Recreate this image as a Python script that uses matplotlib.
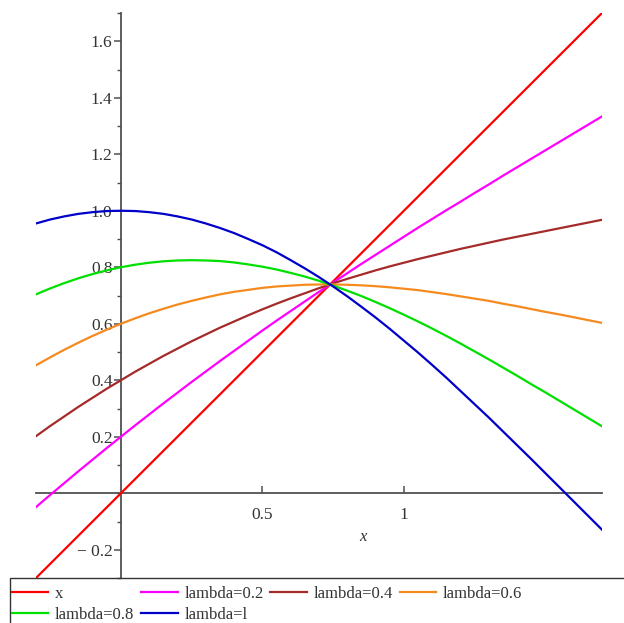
import matplotlib
matplotlib.use("Agg")
import matplotlib.pyplot as plt
from matplotlib.ticker import FixedLocator, MultipleLocator
from matplotlib.patches import Rectangle

x_vals = [-0.30, -0.25, -0.20, -0.15, -0.10, -0.05, 0.00, 0.05, 0.10, 0.15, 0.20,
          0.25, 0.30, 0.35, 0.40, 0.45, 0.50, 0.55, 0.60, 0.65, 0.70,
          0.75, 0.80, 0.85, 0.90, 0.95, 1.00, 1.05, 1.10, 1.15, 1.20,
          1.25, 1.30, 1.35, 1.40, 1.45, 1.50, 1.55, 1.60, 1.65, 1.70]
y_x = list(x_vals)
y_l02 = [-0.049, -0.006, 0.036, 0.078, 0.119, 0.160, 0.200, 0.240, 0.279, 0.318, 0.356,
         0.394, 0.431, 0.468, 0.504, 0.540, 0.576, 0.611, 0.645, 0.679, 0.713,
         0.746, 0.779, 0.812, 0.844, 0.876, 0.908, 0.940, 0.971, 1.002, 1.032,
         1.063, 1.093, 1.124, 1.154, 1.184, 1.214, 1.244, 1.274, 1.304, 1.334]
y_l04 = [0.202, 0.238, 0.272, 0.306, 0.338, 0.370, 0.400, 0.430, 0.458, 0.486, 0.512,
         0.538, 0.562, 0.586, 0.608, 0.630, 0.651, 0.671, 0.690, 0.708, 0.726,
         0.743, 0.759, 0.774, 0.789, 0.803, 0.816, 0.829, 0.841, 0.853, 0.865,
         0.876, 0.887, 0.898, 0.908, 0.918, 0.928, 0.938, 0.948, 0.958, 0.968]
y_l06 = [0.453, 0.481, 0.508, 0.533, 0.557, 0.579, 0.600, 0.619, 0.637, 0.653, 0.668,
         0.681, 0.693, 0.704, 0.713, 0.720, 0.727, 0.732, 0.735, 0.738, 0.739,
         0.739, 0.738, 0.736, 0.733, 0.729, 0.724, 0.719, 0.712, 0.705, 0.697,
         0.689, 0.681, 0.671, 0.662, 0.652, 0.642, 0.633, 0.623, 0.613, 0.603]
y_l08 = [0.704, 0.725, 0.744, 0.761, 0.776, 0.789, 0.800, 0.809, 0.816, 0.821, 0.824,
         0.825, 0.824, 0.822, 0.817, 0.810, 0.802, 0.792, 0.780, 0.767, 0.752,
         0.735, 0.717, 0.698, 0.677, 0.655, 0.632, 0.608, 0.583, 0.557, 0.530,
         0.502, 0.474, 0.445, 0.416, 0.386, 0.357, 0.327, 0.297, 0.267, 0.237]
y_l1 = [0.955, 0.969, 0.980, 0.989, 0.995, 0.999, 1.000, 0.999, 0.995, 0.989, 0.980,
        0.969, 0.955, 0.939, 0.921, 0.900, 0.878, 0.853, 0.825, 0.796, 0.765,
        0.732, 0.697, 0.660, 0.622, 0.582, 0.540, 0.498, 0.454, 0.409, 0.362,
        0.315, 0.268, 0.219, 0.170, 0.121, 0.071, 0.021, -0.029, -0.079, -0.129]

labels = ["x", "lambda=0.2", "lambda=0.4", "lambda=0.6", "lambda=0.8", "lambda=l"]
colors = ["#ff0000", "#ff00ff", "#a52a2a", "#f58a1f", "#00e000", "#0000c8"]
series = [y_x, y_l02, y_l04, y_l06, y_l08, y_l1]

xticks = [0.5, 1.0]
xticklabels = ["0.5", "1"]
yticks = [-0.2, 0.2, 0.4, 0.6, 0.8, 1.0, 1.2, 1.4, 1.6]
yticklabels = ["\u2212 0.2", "0.2", "0.4", "0.6", "0.8", "1.0", "1.2", "1.4", "1.6"]

plt.rcParams['font.family'] = ['Liberation Serif', 'DejaVu Serif']

W, H = 624, 623
fig = plt.figure(figsize=(W / 100, H / 100), dpi=100)
ax = fig.add_axes([36 / W, 1 - 578 / H, (602 - 36) / W, (578 - 13) / H])

handles = []
for ys, c, lab in zip(series, colors, labels):
    h, = ax.plot(x_vals, ys, color=c, lw=1.6, label=lab, zorder=3)
    handles.append(h)

ax.set_xlim(-0.3, 1.7)
ax.set_ylim(-0.3, 1.7)

for s in ['top', 'right']:
    ax.spines[s].set_visible(False)
ax.spines['left'].set_position(('data', 0))
ax.spines['bottom'].set_position(('data', 0))
for s in ['left', 'bottom']:
    ax.spines[s].set_color('#505050')
    ax.spines[s].set_linewidth(1.3)

ax.xaxis.set_major_locator(FixedLocator(xticks))
ax.set_xticklabels(xticklabels)
ax.yaxis.set_major_locator(FixedLocator(yticks))
ax.set_yticklabels(yticklabels)
ax.yaxis.set_minor_locator(MultipleLocator(0.1))

ax.tick_params(axis='x', which='major', direction='in', length=5, width=1.1,
               color='#505050', labelsize=12.5, pad=10, labelcolor='#333333')
ax.tick_params(axis='y', which='major', direction='out', length=5, width=1.1,
               color='#505050', labelsize=12.5, pad=1, labelcolor='#333333')
ax.tick_params(axis='y', which='minor', direction='out', length=3, width=1.0,
               color='#505050')

ax.set_xlabel('x', style='italic', fontsize=12, color='#333333')
ax.xaxis.set_label_coords((363 - 36) / 566, (578 - 529) / 565)

# legend frame (extends past the right and bottom edges of the figure)
fig.patches.append(Rectangle((10 / W, -0.05), 1.0, (623 - 578) / H + 0.05,
                             transform=fig.transFigure, fill=False,
                             edgecolor='#333333', linewidth=1.0))

order = [0, 4, 1, 5, 2, 3]
leg = fig.legend([handles[i] for i in order], [labels[i] for i in order],
                 loc='upper left', ncol=4,
                 bbox_to_anchor=(10 / W, 1 - 584 / H),
                 frameon=False, fontsize=12, handlelength=2.2, handletextpad=0.4,
                 borderpad=0.1, labelspacing=0.3, borderaxespad=0,
                 columnspacing=0.4)
for t in leg.get_texts():
    t.set_color('#333333')

fig.savefig('out.png', dpi=100)
